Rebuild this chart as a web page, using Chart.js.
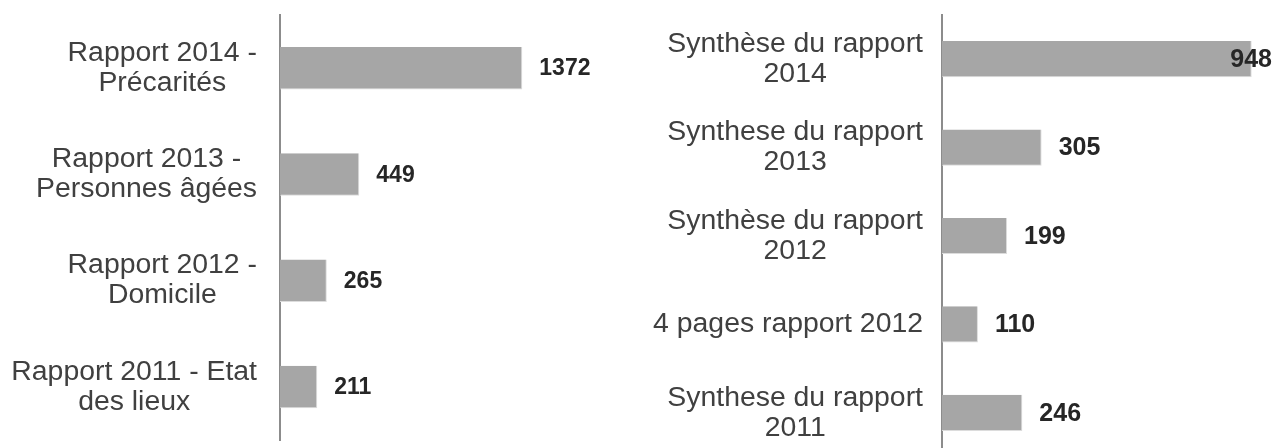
<!DOCTYPE html>
<html>
<head>
<meta charset="utf-8">
<script src="https://cdn.jsdelivr.net/npm/chart.js@4.4.0/dist/chart.umd.min.js"></script>
<style>
  body { margin: 0; background: #fff; }
  #wrapLeft { position: absolute; left: 0; top: 0; width: 640px; height: 448px; }
  #wrapRight { position: absolute; left: 640px; top: 0; width: 633px; height: 448px; overflow: hidden; }
</style>
</head>
<body>
<div id="wrapLeft"><canvas id="chartLeft" width="640" height="448"></canvas></div>
<div id="wrapRight"><canvas id="chartRight" width="633" height="460"></canvas></div>
<script>
// data
const leftLabels = [
  ["Rapport 2014 -", "Précarités"],
  ["Rapport 2013 -", "Personnes âgées"],
  ["Rapport 2012 -", "Domicile"],
  ["Rapport 2011 - Etat", "des lieux"]
];
const leftValues = [1372, 449, 265, 211];

const rightLabels = [
  ["Synthèse du rapport", "2014"],
  ["Synthese du rapport", "2013"],
  ["Synthèse du rapport", "2012"],
  "4 pages rapport 2012",
  ["Synthese du rapport", "2011"]
];
const rightValues = [948, 305, 199, 110, 246];

// draws the category labels (each block centered on itself) and the value labels
const labelPlugin = {
  id: 'labelPlugin',
  afterDatasetsDraw(chart, args, opts) {
    const ctx = chart.ctx;
    const yScale = chart.scales.y;
    const meta = chart.getDatasetMeta(0);
    ctx.save();

    // category labels
    ctx.font = opts.catFont;
    ctx.fillStyle = '#404040';
    ctx.textAlign = 'center';
    ctx.textBaseline = 'middle';
    chart.data.labels.forEach(function(lab, i) {
      let lines = Array.isArray(lab) ? lab : [lab];
      let maxW = 0;
      lines.forEach(l => { maxW = Math.max(maxW, ctx.measureText(l).width); });
      let cx = chart.chartArea.left - opts.gap - maxW / 2;
      let cy = yScale.getPixelForTick(i);
      lines.forEach(function(l, j) {
        ctx.fillText(l, cx, cy + (j - (lines.length - 1) / 2) * 30);
      });
    });

    // value labels
    ctx.font = opts.valFont;
    ctx.fillStyle = '#262626';
    ctx.textAlign = 'left';
    meta.data.forEach(function(bar, i) {
      let txt = String(chart.data.datasets[0].data[i]);
      let w = ctx.measureText(txt).width;
      let x = Math.min(bar.x + 17, chart.width - w - 1);
      ctx.fillText(txt, x, bar.y + 1);
    });
    ctx.restore();
  }
};

function makeChart(id, labels, values, cfg) {
  return new Chart(document.getElementById(id), {
    type: 'bar',
    data: {
      labels: labels,
      datasets: [{
        data: values,
        backgroundColor: '#a6a6a6',
        borderColor: '#dcdcdc',
        borderWidth: {top: 0, left: 0, right: 1, bottom: 1},
        borderSkipped: false,
        barPercentage: cfg.barPct,
        categoryPercentage: 0.5
      }]
    },
    options: {
      indexAxis: 'y',
      responsive: false,
      animation: false,
      layout: { padding: { top: 15, bottom: cfg.padBottom, right: cfg.padRight, left: 0 } },
      plugins: {
        legend: { display: false },
        tooltip: { enabled: false },
        labelPlugin: { catFont: '28.4px "Liberation Sans", Arial, sans-serif', valFont: cfg.valFont, gap: cfg.gap }
      },
      scales: {
        x: { display: false, min: 0, max: cfg.xMax },
        y: {
          ticks: { display: false },
          grid: { display: false },
          border: { display: true, color: '#8c8c8c', width: 2 },
          afterFit(scale) { scale.width = cfg.axisW; }
        }
      }
    },
    plugins: [labelPlugin]
  });
}

makeChart('chartLeft', leftLabels, leftValues, {
  axisW: 280, xMax: 2000, padRight: 640 - 280 - 353.2, padBottom: 8,
  barPct: 0.8, gap: 23, valFont: 'bold 23px "Liberation Sans", Arial, sans-serif'
});

makeChart('chartRight', rightLabels, rightValues, {
  axisW: 302, xMax: 1000, padRight: 633 - 302 - 326.7, padBottom: 3,
  barPct: 0.82, gap: 19, valFont: 'bold 25px "Liberation Sans", Arial, sans-serif'
});
</script>
</body>
</html>
